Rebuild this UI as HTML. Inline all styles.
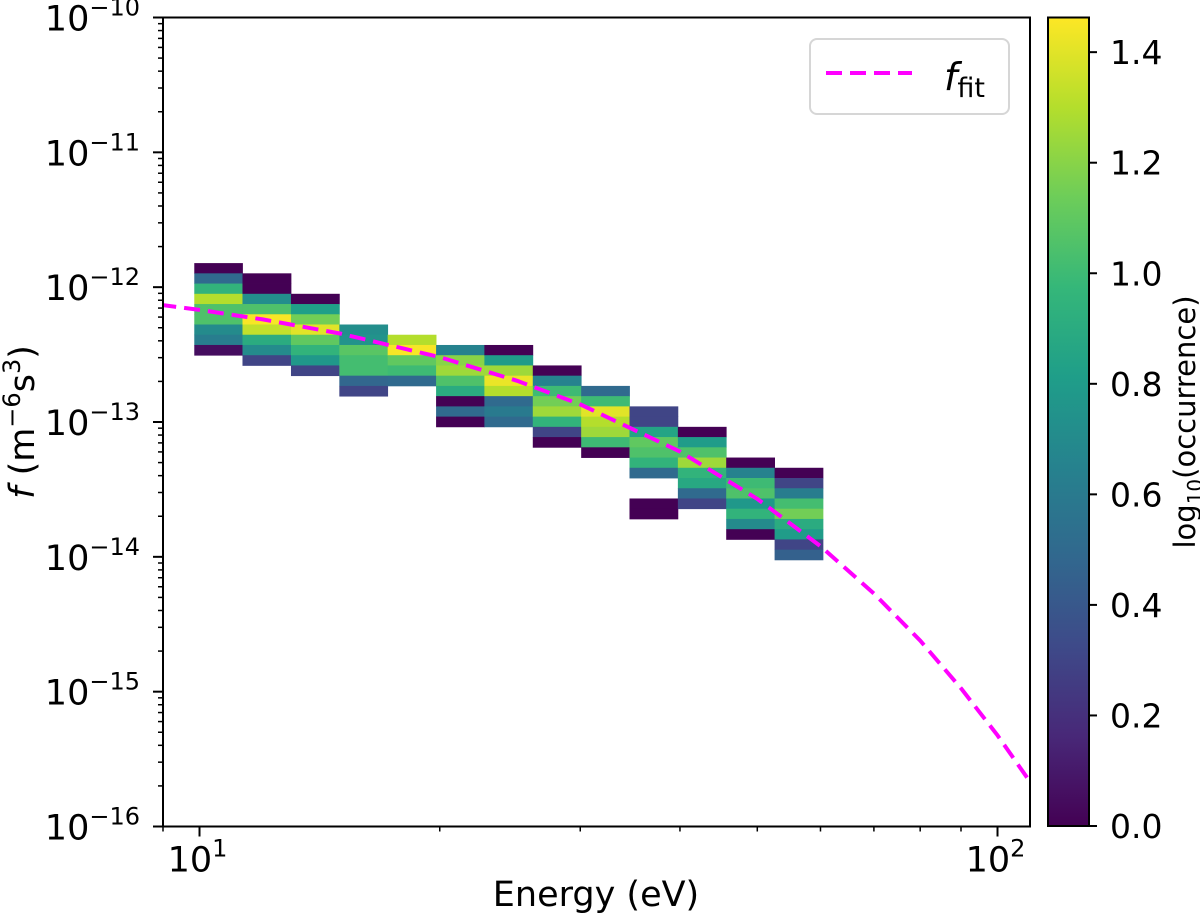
<!DOCTYPE html>
<html><head><meta charset="utf-8">
<style>
html,body{margin:0;padding:0;background:#fff;}
svg text{font-family:"DejaVu Sans","Liberation Sans",sans-serif;fill:#000;}
</style></head>
<body>
<svg id="chart" width="1200" height="914" xmlns="http://www.w3.org/2000/svg">
  <g id="heatmap"></g>
  <g id="fit"></g>
  <g id="axes"></g>
  <g id="legend">
    <rect x="810" y="39" width="199" height="75" rx="7" fill="#fff" stroke="#d6d6d6" stroke-width="2"/>
    <line x1="826" y1="73" x2="912" y2="73" stroke="#ff00ff" stroke-width="4" stroke-dasharray="16,8"/>
    <text x="944" y="90" font-size="38" font-style="italic">f<tspan font-size="27" font-style="normal" dy="7">fit</tspan></text>
  </g>
  <g id="cbar"></g>
  <text x="596" y="906" font-size="35" text-anchor="middle">Energy (eV)</text>
  <text transform="translate(34,422) rotate(-90)" font-size="35" text-anchor="middle"><tspan font-style="italic">f</tspan> (m<tspan font-size="24" dy="-14">−6</tspan><tspan dy="14">s</tspan><tspan font-size="24" dy="-14">3</tspan><tspan dy="14">)</tspan></text>
  <text transform="translate(1195,422) rotate(-90)" font-size="29" text-anchor="middle">log<tspan font-size="20" dy="7">10</tspan><tspan dy="-7">(occurrence)</tspan></text>
</svg>
<script>
// ---- data ----
const energyEdges = [9.85, 11.32, 13.02, 14.97, 17.21, 19.79, 22.75, 26.16, 30.08, 34.58, 39.76, 45.71, 52.56, 60.43];
const fBinTopLog = -11.8215;   // log10 f of the top edge of row 0
const fBinStepLog = 0.0759;    // decades per row
const colStartRow = [0, 1, 3, 6, 7, 8, 8, 10, 12, 14, 16, 19, 20];
const col0 = [0.0, 0.5, 0.95, 1.3, 1.05, 1.05, 0.7, 0.62, 0.05];
const col1 = [0.0, 0.0, 0.72, 1.05, 1.45, 1.33, 0.9, 0.7, 0.3];
const col2 = [0.0, 0.82, 1.15, 1.4, 1.1, 0.95, 0.78, 0.3];
const col3 = [0.72, 0.75, 1.08, 1.02, 1.02, 0.48, 0.3];
const col4 = [1.3, 1.45, 1.1, 1.0, 0.5];
const col5 = [0.65, 1.2, 1.25, 1.05, 0.9, 0.0, 0.5, 0.0];
const col6 = [0.0, 0.8, 1.25, 1.42, 1.3, 0.5, 0.6, 0.5];
const col7 = [0.0, 0.65, 1.0, 1.15, 1.25, 0.95, 0.3, 0.0];
const col8 = [0.5, 1.0, 1.4, 1.3, 1.25, 1.0, 0.0];
const col9 = [0.3, 0.3, 0.85, 1.1, 1.05, 0.95, 0.5, null, null, 0.0, 0.0];
const col10 = [0.0, 0.8, 1.05, 1.25, 0.95, 0.88, 0.5, 0.3];
const col11 = [0.0, 0.65, 1.0, 1.05, 0.78, 0.95, 0.7, 0.0];
const col12 = [0.0, 0.3, 0.62, 1.02, 1.15, 0.9, 0.8, 0.3, 0.45];
const columns = [col0, col1, col2, col3, col4, col5, col6, col7, col8, col9, col10, col11, col12];
const fitEnergy = [8.93, 10, 12, 15, 20, 25, 30, 40, 50, 60, 70, 80, 90, 100, 110];
const fitF = [7.40e-13, 6.78e-13, 5.77e-13, 4.53e-13, 3.03e-13, 2.02e-13, 1.35e-13, 6.03e-14, 2.69e-14, 1.20e-14, 5.35e-15, 2.39e-15, 1.06e-15, 4.75e-16, 2.12e-16];
const yTickExps = [-16, -15, -14, -13, -12, -11, -10];
const xTickExps = [1, 2];
const cbarTicks = [0.0, 0.2, 0.4, 0.6, 0.8, 1.0, 1.2, 1.4];
const vmin = 0, vmax = 1.4627;

// ---- scales ----
const X0 = 163, X1 = 1030, Y0 = 17.5, Y1 = 826.5;
const xmin = Math.log10(9), pxPerDecX = 798;
const ymaxLog = -10, yminLog = -16;
function xs(E){ return X0 + (Math.log10(E) - xmin) * pxPerDecX; }
function ysLog(l){ return Y0 + (ymaxLog - l) / (ymaxLog - yminLog) * (Y1 - Y0); }
function ys(f){ return ysLog(Math.log10(f)); }
const viridis = [[68,1,84],[72,40,120],[62,74,137],[49,104,142],[38,130,142],[31,158,137],[53,183,121],[109,205,89],[180,222,44],[253,231,37]];
function cmap(v){
  let t = Math.max(0, Math.min(1, (v - vmin) / (vmax - vmin))) * (viridis.length - 1);
  const i = Math.min(Math.floor(t), viridis.length - 2), fr = t - i;
  const a = viridis[i], b = viridis[i+1];
  return 'rgb(' + a.map((c,k)=>Math.round(c + (b[k]-c)*fr)).join(',') + ')';
}
const NS = 'http://www.w3.org/2000/svg';
function mk(tag, attrs, parent){ const e = document.createElementNS(NS, tag); for (const k in attrs) e.setAttribute(k, attrs[k]); parent.appendChild(e); return e; }

// ---- heatmap ----
const hm = document.getElementById('heatmap');
columns.forEach((vals, ci) => {
  const xa = xs(energyEdges[ci]), xb = xs(energyEdges[ci+1]);
  vals.forEach((v, ri) => {
    if (v === null) return;
    const row = colStartRow[ci] + ri;
    const ya = ysLog(fBinTopLog - row * fBinStepLog), yb = ysLog(fBinTopLog - (row + 1) * fBinStepLog);
    const r = mk('rect', {x: xa, y: ya, width: xb - xa + 0.4, height: yb - ya + 0.4, fill: cmap(v)}, hm);
    
    
  });
});

// ---- fit curve ----
const fitG = document.getElementById('fit');
const clip = mk('clipPath', {id: 'plotclip'}, fitG);
mk('rect', {x: X0, y: Y0, width: X1 - X0, height: Y1 - Y0}, clip);
const pts = fitEnergy.map((E, i) => xs(E).toFixed(1) + ',' + ys(fitF[i]).toFixed(1)).join(' ');
const pl = mk('polyline', {points: pts, fill: 'none', stroke: '#ff00ff', 'stroke-width': 4, 'stroke-dasharray': '16,8', 'clip-path': 'url(#plotclip)'}, fitG);



// ---- axes ----
const ax = document.getElementById('axes');
const frame = mk('rect', {x: X0, y: Y0, width: X1 - X0, height: Y1 - Y0, fill: 'none', stroke: '#000', 'stroke-width': 2}, ax);


yTickExps.forEach(e => {
  const y = ysLog(e);
  mk('line', {x1: X0 - 10, y1: y, x2: X0, y2: y, stroke: '#000', 'stroke-width': 2}, ax);
  const t = mk('text', {x: 140, y: y + 13, 'font-size': 35, 'text-anchor': 'end'}, ax);
  
  
  t.innerHTML = '10<tspan font-size="24" dy="-15">−' + Math.abs(e) + '</tspan>';
  if (e > -16) for (let m = 2; m <= 9; m++) {
    const ym = ysLog(e - 1 + Math.log10(m));
    mk('line', {x1: X0 - 5, y1: ym, x2: X0, y2: ym, stroke: '#000', 'stroke-width': 1.5}, ax);
  }
});
xTickExps.forEach(e => {
  const x = xs(Math.pow(10, e));
  mk('line', {x1: x, y1: Y1, x2: x, y2: Y1 + 10, stroke: '#000', 'stroke-width': 2}, ax);
  const t = mk('text', {x: x - 2, y: Y1 + 45, 'font-size': 35, 'text-anchor': 'middle'}, ax);
  
  
  t.innerHTML = '10<tspan font-size="24" dy="-15">' + e + '</tspan>';
});
[9, 20, 30, 40, 50, 60, 70, 80, 90].forEach(E => {
  const x = xs(E);
  mk('line', {x1: x, y1: Y1, x2: x, y2: Y1 + 5, stroke: '#000', 'stroke-width': 1.5}, ax);
});

// ---- colorbar ----
const cb = document.getElementById('cbar');
const CX0 = 1048, CX1 = 1089, CY0 = 17.5, CY1 = 826;
function cy(v){ return CY1 - (v - vmin) / (vmax - vmin) * (CY1 - CY0); }
const defs = mk('defs', {}, cb);
const grad = mk('linearGradient', {id: 'vgrad', x1: 0, y1: 1, x2: 0, y2: 0}, defs);
viridis.forEach((c, i) => mk('stop', {offset: i / (viridis.length - 1), 'stop-color': 'rgb(' + c.join(',') + ')'}, grad));
const cr = mk('rect', {x: CX0, y: CY0, width: CX1 - CX0, height: CY1 - CY0, fill: 'url(#vgrad)', stroke: '#000', 'stroke-width': 2}, cb);


cbarTicks.forEach(v => {
  const y = cy(v);
  mk('line', {x1: CX1, y1: y, x2: CX1 + 8, y2: y, stroke: '#000', 'stroke-width': 2}, cb);
  const t = mk('text', {x: CX1 + 21, y: y + 12, 'font-size': 33}, cb);
  
  
  t.textContent = v.toFixed(1);
});
</script>
</body></html>
